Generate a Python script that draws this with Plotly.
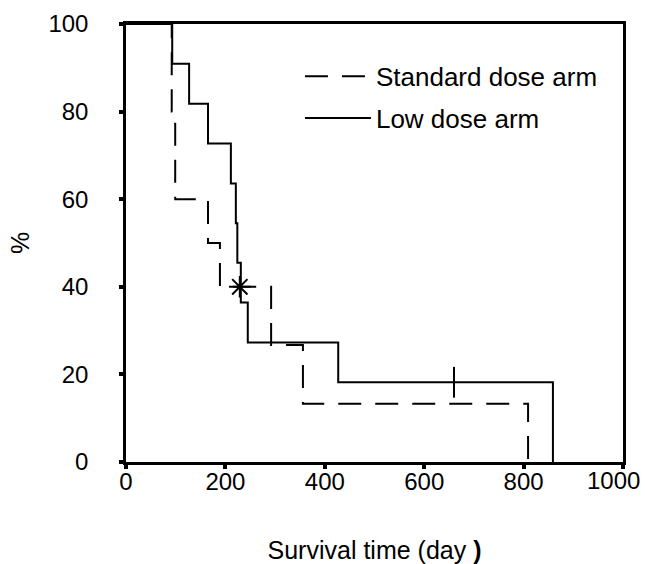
import plotly.graph_objects as go

# ---- data ----
std_time = [0, 92, 92, 99, 165, 189, 292, 356, 809]
std_surv = [100, 90, 80, 60, 50, 40, 26.7, 13.3, 0]
std_cens_time = [229]
std_cens_surv = [40]

low_time = [0, 93, 127, 165, 211, 221, 224, 231, 245, 427, 859]
low_surv = [100, 90.9, 81.8, 72.7, 63.6, 54.5, 45.5, 36.4, 27.3, 18.2, 0]
low_cens_time = [660]
low_cens_surv = [18.2]

x_ticks = [0, 200, 400, 600, 800, 1000]
x_tick_labels = ["0", "200", "400", "600", "800", ""]
last_x_label = "1000"
y_ticks = [0, 20, 40, 60, 80, 100]

FONT = "Arial, 'Liberation Sans', sans-serif"

fig = go.Figure()
fig.add_trace(go.Scatter(
    x=std_time, y=std_surv, mode="lines", line_shape="hv",
    line=dict(color="black", width=2, dash="23px,14px"),
    name="Standard dose arm", legendgroup="a"))
fig.add_trace(go.Scatter(
    x=low_time, y=low_surv, mode="lines", line_shape="hv",
    line=dict(color="black", width=2),
    name="Low dose arm", legendgroup="b"))
fig.add_trace(go.Scatter(
    x=std_cens_time, y=std_cens_surv, mode="markers", showlegend=False,
    marker=dict(symbol="asterisk-open", size=18, color="black",
                line=dict(color="black", width=2))))
fig.add_trace(go.Scatter(
    x=low_cens_time, y=low_cens_surv, mode="markers", showlegend=False,
    marker=dict(symbol="line-ns-open", size=22, color="black",
                line=dict(color="black", width=2))))

# last x tick label sits slightly left of its tick (as in the reference)
fig.add_annotation(
    x=x_ticks[-1], xref="x", y=0, yref="paper", text=last_x_label,
    showarrow=False, xanchor="center", yanchor="top", xshift=-10, yshift=-3,
    font=dict(size=24, family=FONT, color="black"))

fig.update_layout(
    width=645, height=564,
    margin=dict(l=126, r=22, t=24, b=102),
    paper_bgcolor="white", plot_bgcolor="white",
    font=dict(family=FONT, size=24, color="black"),
    showlegend=True,
    legend=dict(x=0.350, y=0.934, xanchor="left", yanchor="top",
                bgcolor="rgba(0,0,0,0)", font=dict(size=26),
                itemwidth=66, tracegroupgap=5),
)
fig.update_xaxes(
    range=[0, 1000], tickvals=x_ticks, ticktext=x_tick_labels,
    automargin=False,
    showgrid=False, zeroline=False,
    showline=True, linecolor="black", linewidth=2.5, mirror=True,
    ticks="outside", ticklen=4, tickwidth=4, tickcolor="black",
    tickfont=dict(size=24), ticklabelstandoff=-8,
    title=dict(text="Survival time (day <b>)</b>", font=dict(size=25), standoff=48),
)
fig.update_yaxes(
    range=[0, 100], tickvals=y_ticks, ticktext=[str(v) for v in y_ticks],
    automargin=False,
    showgrid=False, zeroline=False,
    showline=True, linecolor="black", linewidth=2.5, mirror=True,
    ticks="outside", ticklen=4, tickwidth=4, tickcolor="black",
    tickfont=dict(size=24), ticklabelstandoff=26,
    title=dict(text="%", font=dict(size=25), standoff=12),
)

fig.write_html(
    "out.html",
    config={"displayModeBar": False},
    post_script="document.body.style.margin='0';document.body.style.overflow='hidden';",
)
